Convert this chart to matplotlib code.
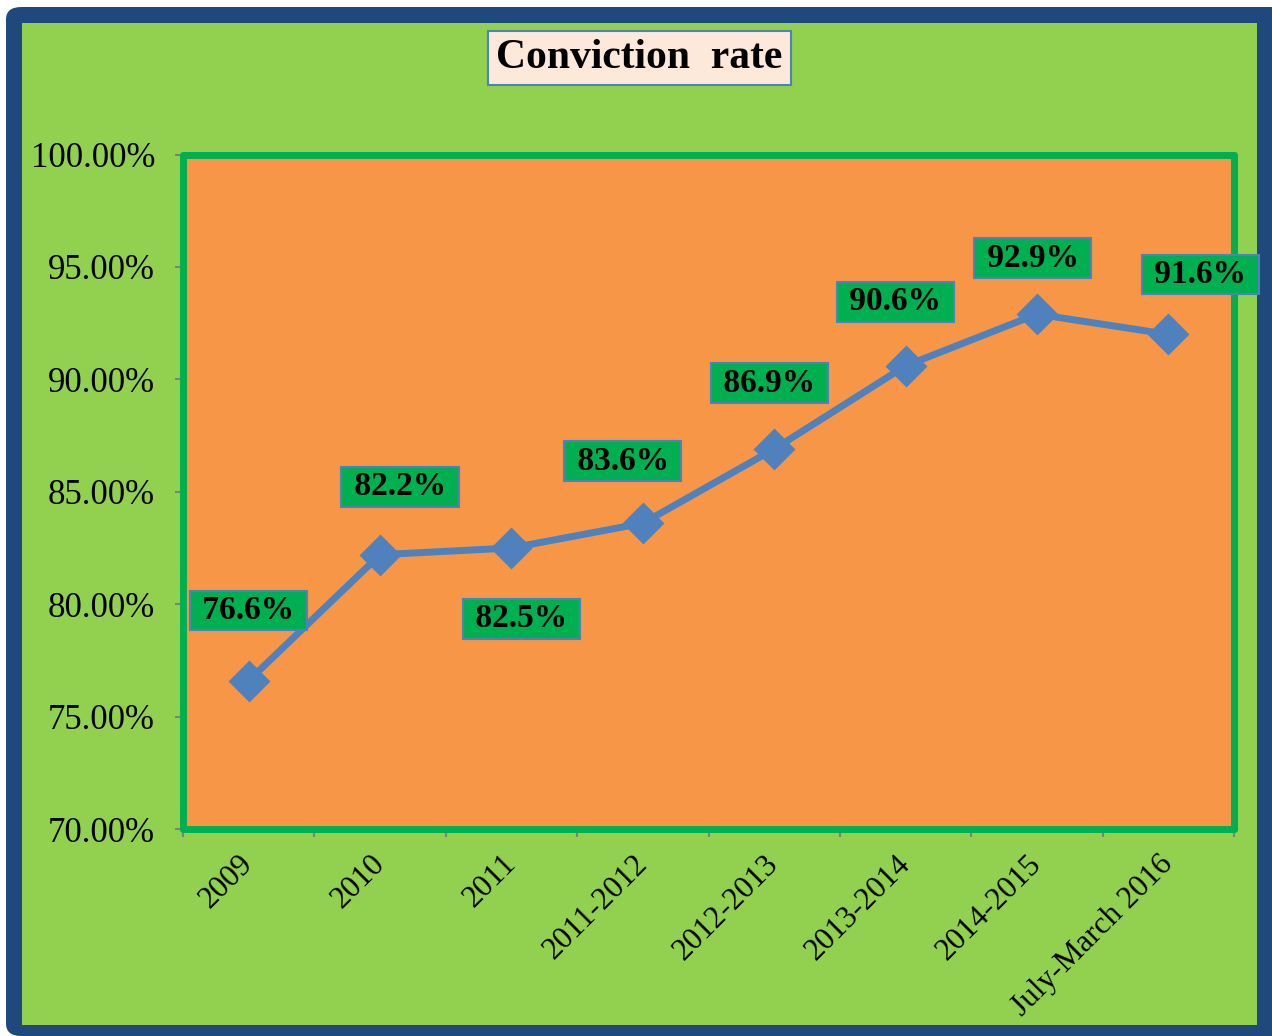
import matplotlib
matplotlib.use("Agg")
import matplotlib.pyplot as plt
from matplotlib.patches import FancyBboxPatch, Rectangle
from matplotlib.ticker import FixedLocator, FuncFormatter

periods = ["2009", "2010", "2011", "2011-2012", "2012-2013",
           "2013-2014", "2014-2015", "July-March 2016"]
rates = [76.6, 82.2, 82.5, 83.6, 86.9, 90.6, 92.9, 92.0]
labels = ["76.6%", "82.2%", "82.5%", "83.6%", "86.9%", "90.6%", "92.9%", "91.6%"]
y_ticks = [70, 75, 80, 85, 90, 95, 100]

# label box offsets from the point, pixels (x right, y up)
label_offsets = [(0, 70), (20, 68), (10, -71), (-20, 62),
                 (-5, 66), (-10, 64), (-4, 56), (32, 60)]

W, H = 1272, 1036
plt.rcParams["font.family"] = ["Liberation Serif", "DejaVu Serif"]

fig = plt.figure(figsize=(W / 100, H / 100), dpi=100, facecolor="white")

# dark blue frame and green chart area
fig.patches.append(FancyBboxPatch((6 / W, 0), 1.2, (H - 7) / H,
                                  boxstyle="round,pad=0,rounding_size=0.012",
                                  transform=fig.transFigure, facecolor="#1F497D",
                                  edgecolor="none", zorder=-3))
fig.patches.append(Rectangle((22 / W, (H - 1025) / H), (1257 - 22) / W, (1025 - 23) / H,
                             transform=fig.transFigure, facecolor="#92D050",
                             edgecolor="none", zorder=-2))

left, right, top, bottom = 183, 1234, 154.5, 829
ax = fig.add_axes([left / W, (H - bottom) / H, (right - left) / W, (bottom - top) / H])
ax.set_facecolor("#F79646")
for s in ax.spines.values():
    s.set_color("#00B050")
    s.set_linewidth(5)
    s.set_capstyle("round")

x = list(range(len(periods)))
ax.plot(x, rates, color="#4F81BD", lw=5, marker="D", markersize=19,
        markerfacecolor="#4F81BD", markeredgecolor="#4F81BD", markeredgewidth=2,
        solid_joinstyle="round", zorder=3)

ax.set_xlim(-0.5, len(periods) - 0.5)
ax.set_ylim(70, 100)

ax.xaxis.set_major_locator(FixedLocator([i - 0.5 for i in range(len(periods) + 1)]))
ax.xaxis.set_minor_locator(FixedLocator(x))
ax.set_xticklabels([])
ax.set_xticklabels(periods, minor=True, rotation=45, ha="right",
                   va="center", rotation_mode="anchor", fontsize=22.5)
ax.tick_params(axis="x", which="major", length=6, width=1.5, color="#808080")
ax.tick_params(axis="x", which="minor", length=0, pad=22)

ax.set_yticks(y_ticks)
ax.yaxis.set_major_formatter(FuncFormatter(lambda v, p: f"{v:.2f}%"))
ax.tick_params(axis="y", length=6, width=1.5, color="#808080", labelsize=25, pad=14)

for xi, yi, txt, (dx, dy) in zip(x, rates, labels, label_offsets):
    ax.annotate(f" {txt} ", (xi, yi), xytext=(dx, dy), textcoords="offset pixels",
                ha="center", va="center", fontsize=24, fontweight="bold",
                annotation_clip=False, zorder=5,
                bbox=dict(boxstyle="square,pad=0.13", facecolor="#00B050",
                          edgecolor="#4F81BD", linewidth=1.5))

fig.text(639.5 / W, (H - 58) / H, "Conviction  rate", ha="center", va="center",
         fontsize=30, fontweight="bold",
         bbox=dict(boxstyle="square,pad=0.2", facecolor="#FDE9D9",
                   edgecolor="#4F81BD", linewidth=1.5))

fig.savefig("out.png", dpi=100, facecolor=fig.get_facecolor())
